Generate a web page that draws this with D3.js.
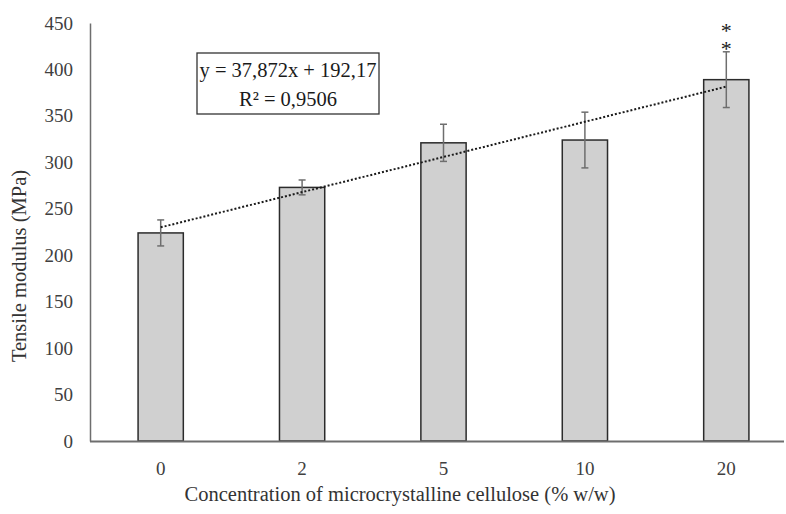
<!DOCTYPE html>
<html>
<head>
<meta charset="utf-8">
<script src="https://cdn.jsdelivr.net/npm/d3@7"></script>
<style>
  body { margin: 0; background: #fff; }
  text { font-family: "Liberation Serif", "Times New Roman", serif; }
</style>
</head>
<body>
<div id="chart"></div>
<script>
// concentrations of MCC (% w/w) and the measured tensile modulus (MPa)
var categories = ["0", "2", "5", "10", "20"];
var modulus = [224, 273, 321, 324, 389];
var modulusErr = [14, 8, 20, 30, 30];
var yTicks = [0, 50, 100, 150, 200, 250, 300, 350, 400, 450];
var trendSlope = 37.872;
var trendIntercept = 192.17;
var trendLabel = ["y = 37,872x + 192,17", "R\u00b2 = 0,9506"];
var signif = ["", "", "", "", "**"];

var width = 786;
var height = 514;

var svg = d3.select("#chart").
append("svg").
attr("width", width).
attr("height", height);

var x = d3.scaleBand().
domain(categories).
range([90, 797]).
paddingInner(0.68).
paddingOuter(0.34);

var y = d3.scaleLinear().
domain([0, 450]).
range([441, 23]);

// bars
svg.selectAll(".bar").
data(modulus).
enter().
append("rect").
attr("class", "bar").
attr("x", function (d, i) { return x(categories[i]); }).
attr("y", function (d) { return y(d); }).
attr("width", x.bandwidth()).
attr("height", function (d) { return y(0) - y(d); }).
attr("fill", "#d0d0d0").
attr("stroke", "#2b2b2b").
attr("stroke-width", 1.5);

// error bars
var errG = svg.append("g").attr("stroke", "#6e6e6e").attr("stroke-width", 1.5);
modulus.forEach(function (d, i) {
  var cx = x(categories[i]) + x.bandwidth() / 2;
  var top = y(d + modulusErr[i]);
  var bot = y(d - modulusErr[i]);
  errG.append("line").attr("x1", cx).attr("x2", cx).attr("y1", top).attr("y2", bot);
  errG.append("line").attr("x1", cx - 3.5).attr("x2", cx + 3.5).attr("y1", top).attr("y2", top);
  errG.append("line").attr("x1", cx - 3.5).attr("x2", cx + 3.5).attr("y1", bot).attr("y2", bot);
});

// linear trendline (x = 1..n)
var trend = categories.map(function (c, i) {
  return [x(c) + x.bandwidth() / 2, y(trendSlope * (i + 1) + trendIntercept)];
});
svg.append("line").
attr("x1", trend[0][0]).
attr("y1", trend[0][1]).
attr("x2", trend[trend.length - 1][0]).
attr("y2", trend[trend.length - 1][1]).
attr("stroke", "#1a1a1a").
attr("stroke-width", 2).
attr("stroke-dasharray", "2,2");

// significance stars, stacked vertically above the error bar
signif.forEach(function (s, i) {
  if (!s) return;
  var cx = x(categories[i]) + x.bandwidth() / 2;
  var top = y(modulus[i] + modulusErr[i]);
  svg.append("text").
  attr("x", cx).
  attr("y", top + 2).
  attr("text-anchor", "end").
  attr("font-size", 22).
  attr("fill", "#1a1a1a").
  style("writing-mode", "vertical-rl").
  style("text-orientation", "upright").
  style("letter-spacing", "-7px").
  text(s);
});

// axes
var yAxis = d3.axisLeft(y).tickValues(yTicks).tickSize(0).tickPadding(17);
var gy = svg.append("g").attr("transform", "translate(90,0)").call(yAxis);
gy.select(".domain").attr("stroke", "#6e6e6e").attr("stroke-width", 1.5);
gy.selectAll("text").
attr("font-size", 19).
attr("fill", "#404040").
style("font-family", "Liberation Serif, serif");

var xAxis = d3.axisBottom(x).tickSize(0).tickPadding(21);
var gx = svg.append("g").attr("transform", "translate(0,441)").call(xAxis);
gx.select(".domain").attr("d", "M90,0.5H784").attr("stroke", "#6e6e6e").attr("stroke-width", 2);
gx.selectAll("text").
attr("font-size", 19).
attr("fill", "#404040").
style("font-family", "Liberation Serif, serif");

// axis titles
svg.append("text").
attr("transform", "translate(26,266) rotate(-90)").
attr("text-anchor", "middle").
attr("font-size", 20.5).
attr("fill", "#333").
text("Tensile modulus (MPa)");

svg.append("text").
attr("x", 400).
attr("y", 501).
attr("text-anchor", "middle").
attr("font-size", 20.5).
attr("fill", "#333").
text("Concentration of microcrystalline cellulose (% w/w)");

// trendline label box
svg.append("rect").
attr("x", 197).
attr("y", 53).
attr("width", 182).
attr("height", 61).
attr("fill", "#fff").
attr("stroke", "#333").
attr("stroke-width", 1.3);

trendLabel.forEach(function (t, i) {
  svg.append("text").
  attr("x", 288).
  attr("y", 77 + i * 29).
  attr("text-anchor", "middle").
  attr("font-size", 20.5).
  attr("fill", "#1a1a1a").
  text(t);
});
</script>
</body>
</html>
